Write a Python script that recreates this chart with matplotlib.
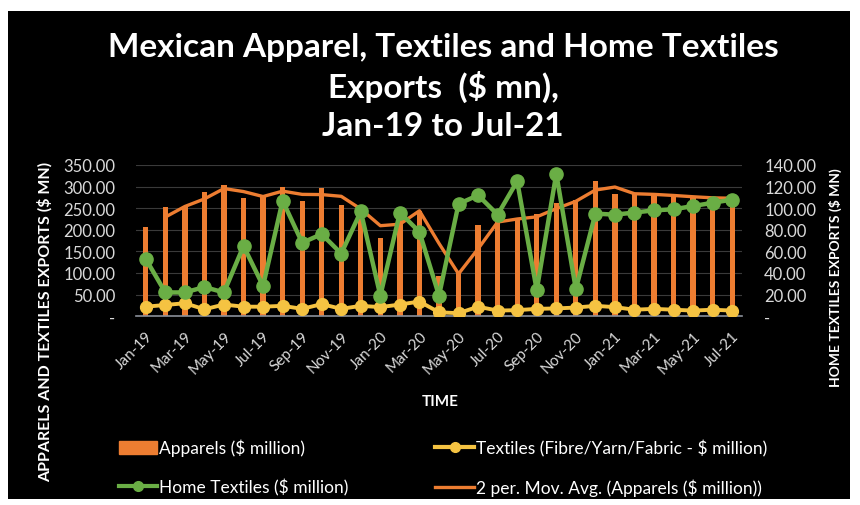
import numpy as np
import pandas as pd
import matplotlib
matplotlib.use("Agg")
import matplotlib.pyplot as plt
from matplotlib.patches import Rectangle, Patch
from matplotlib.lines import Line2D

plt.rcParams['font.family'] = ['Lato', 'DejaVu Sans']

# data
months = ['Jan-19', 'Feb-19', 'Mar-19', 'Apr-19', 'May-19', 'Jun-19', 'Jul-19', 'Aug-19',
          'Sep-19', 'Oct-19', 'Nov-19', 'Dec-19', 'Jan-20', 'Feb-20', 'Mar-20', 'Apr-20',
          'May-20', 'Jun-20', 'Jul-20', 'Aug-20', 'Sep-20', 'Oct-20', 'Nov-20', 'Dec-20',
          'Jan-21', 'Feb-21', 'Mar-21', 'Apr-21', 'May-21', 'Jun-21', 'Jul-21']
apparels = [207, 252, 256, 287, 304, 273, 281, 298, 266, 297, 258, 238, 181, 245, 243, 94,
            102, 210, 226, 224, 236, 262, 270, 314, 284, 283, 281, 278, 275, 273, 273]
textiles = [22, 26, 30, 16, 27, 22, 22, 24, 17, 28, 17, 24, 21, 27, 34, 9,
            7, 22, 13, 14, 17, 18, 20, 24, 21, 15, 17, 15, 13, 15, 13]
home_textiles = [53, 22, 22, 27, 22, 65, 28, 107, 68, 76, 58, 97, 19, 96, 78, 19,
                 104, 112, 94, 125, 24, 132, 25, 95, 94, 96, 98, 99, 102, 105, 108]

left_ticks = [0, 50, 100, 150, 200, 250, 300, 350]
right_ticks = [0, 20, 40, 60, 80, 100, 120, 140]

ORANGE = '#ED7D31'
YELLOW = '#F5C342'
GREEN = '#6AAE45'
LIGHT = '#D9D9D9'

W, H = 860, 506
fig = plt.figure(figsize=(W / 100, H / 100), dpi=100, facecolor='white')

# black chart area
fig.patches.append(Rectangle((8 / W, 1 - 500 / H), 842 / W, 488 / H,
                             transform=fig.transFigure, facecolor='black',
                             edgecolor='none', zorder=-10))

ax = fig.add_axes([136 / W, 1 - 317.2 / H, 606 / W, 151.2 / H])
ax.set_facecolor('black')
x = np.arange(len(months))

ax.bar(x, apparels, width=0.27, color=ORANGE, zorder=2)
ma = pd.Series(apparels).rolling(2).mean()
ax.plot(x, ma, color=ORANGE, lw=2.4, zorder=3)
ax.plot(x, textiles, color=YELLOW, lw=2.8, marker='o', ms=8.5, zorder=4)

ax.set_xlim(-0.5, len(months) - 0.5)
ax.set_ylim(0, 350)
ax.set_yticks(left_ticks)
ax.set_yticklabels(['-' if v == 0 else f'{v:.2f}' for v in left_ticks])
ax.set_xticks(x[::2])
ax.set_xticklabels(months[::2], rotation=45, ha='right', rotation_mode='anchor')
ax.tick_params(axis='y', length=0, labelsize=12, labelcolor=LIGHT, pad=15)
ax.tick_params(axis='x', length=0, labelsize=11, labelcolor=LIGHT, pad=9)
ax.grid(axis='y', color='#3a3a3a', lw=0.8, zorder=0)
ax.set_axisbelow(True)
for s in ['top', 'left', 'right']:
    ax.spines[s].set_visible(False)
ax.spines['bottom'].set_color('#8a8f99')
ax.spines['bottom'].set_linewidth(1.2)

ax2 = ax.twinx()
ax2.patch.set_visible(False)
ax2.plot(x, home_textiles, color=GREEN, lw=3.2, marker='o', ms=9.5, zorder=5)
ax2.set_ylim(0, 140)
ax2.set_yticks(right_ticks)
ax2.set_yticklabels(['-' if v == 0 else f'{v:.2f}' for v in right_ticks])
ax2.tick_params(axis='y', length=0, labelsize=12, labelcolor=LIGHT, pad=16)
for s in ax2.spines.values():
    s.set_visible(False)

# titles and axis labels
for txt, yy in [('Mexican Apparel, Textiles and Home Textiles', 47),
                ('Exports  ($ mn),', 87), ('Jan-19 to Jul-21', 126)]:
    fig.text(443 / W, 1 - yy / H, txt, ha='center', va='center',
             color='white', fontsize=24, fontweight='bold')
fig.text(45 / W, 1 - 322 / H, 'APPARELS AND TEXTILES EXPORTS ($ MN)', rotation=90,
         ha='center', va='center', color='white', fontsize=11.5, fontweight='bold')
fig.text(835 / W, 1 - 278 / H, 'HOME TEXTILES EXPORTS ($ MN)', rotation=90,
         ha='center', va='center', color='white', fontsize=10, fontweight='bold')
fig.text(440 / W, 1 - 402 / H, 'TIME', ha='center', va='center',
         color='white', fontsize=11, fontweight='bold')

handles = [Patch(color=ORANGE),
           Line2D([], [], color=GREEN, lw=3, marker='o', ms=7),
           Line2D([], [], color=YELLOW, lw=3, marker='o', ms=7),
           Line2D([], [], color=ORANGE, lw=2.4)]
labels = ['Apparels ($ million)', 'Home Textiles ($ million)',
          'Textiles (Fibre/Yarn/Fabric - $ million)',
          '2 per. Mov. Avg. (Apparels ($ million))']
leg = fig.legend(handles, labels, ncol=2, loc='upper left',
                 bbox_to_anchor=(119 / W, 1 - 440 / H), frameon=False,
                 fontsize=12.5, handlelength=2.2, handletextpad=0.12,
                 columnspacing=5.0, labelspacing=1.25, borderaxespad=0, borderpad=0)
for t in leg.get_texts():
    t.set_color('white')

fig.savefig('out.png', dpi=100, facecolor='white')
